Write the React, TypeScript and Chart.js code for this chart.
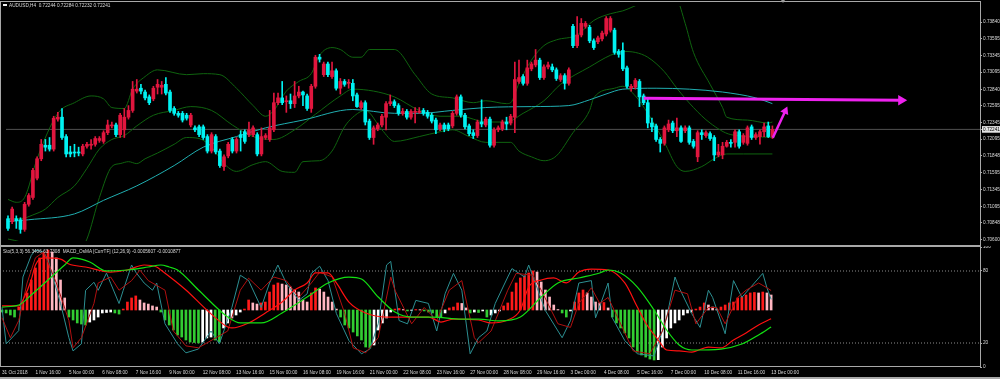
import React, { useEffect, useRef } from "react";
import { Chart, registerables } from "chart.js";

Chart.register(...registerables);

// ---------- texts ----------
const SYMBOL_TITLE = "AUDUSD,H4  0.72244 0.72284 0.72232 0.72241";
const INDICATOR_TITLE = "Sto(5,3,3) 56.3406 63.7308  MACD_OsMA [CurrTF] (12,26,9) -0.0005607 -0.0010877";

// ---------- time axis ----------
const TIME_LABELS = [
  "31 Oct 2018", "1 Nov 16:00", "5 Nov 00:00", "6 Nov 08:00", "7 Nov 16:00", "9 Nov 00:00",
  "12 Nov 08:00", "13 Nov 16:00", "15 Nov 00:00", "16 Nov 08:00", "19 Nov 16:00", "21 Nov 00:00",
  "22 Nov 08:00", "23 Nov 16:00", "27 Nov 00:00", "28 Nov 08:00", "29 Nov 16:00", "3 Dec 00:00",
  "4 Dec 08:00", "5 Dec 16:00", "7 Dec 00:00", "10 Dec 08:00", "11 Dec 16:00", "13 Dec 00:00",
];
const TIME_LABEL_BARS = [0, 8, 16, 24, 32, 40, 48, 56, 64, 72, 80, 88, 96, 104, 112, 120, 128, 136, 144, 152, 160, 168, 176, 184];

// ---------- candles (H4) ----------
const OPEN = [
  0.70909, 0.70866, 0.70909, 0.70894, 0.7075, 0.71125, 0.71226, 0.71514, 0.71803, 0.72005,
  0.72005, 0.71947, 0.72394, 0.72423, 0.72134, 0.71904, 0.71904, 0.71904, 0.71875, 0.7199,
  0.72005, 0.72019, 0.72077, 0.72062, 0.72192, 0.72293, 0.72307, 0.72163, 0.72235, 0.72423,
  0.72524, 0.72812, 0.72855, 0.72798, 0.72726, 0.72697, 0.7287, 0.7287, 0.72913, 0.72798,
  0.72553, 0.72481, 0.72481, 0.72452, 0.72307, 0.72264, 0.72279, 0.72279, 0.72134, 0.71918,
  0.72134, 0.71918, 0.71687, 0.71846, 0.72091, 0.71918, 0.72163, 0.72206, 0.72163, 0.72163,
  0.72163, 0.71875, 0.7212, 0.72091, 0.72235, 0.72639, 0.72711, 0.72654, 0.72668, 0.72625,
  0.7274, 0.72798, 0.7274, 0.72553, 0.72884, 0.73317, 0.73057, 0.73216, 0.73029, 0.73115,
  0.72855, 0.72956, 0.72928, 0.72928, 0.72755, 0.72567, 0.72639, 0.72365, 0.7212, 0.7225,
  0.72307, 0.72423, 0.72625, 0.72654, 0.72596, 0.72481, 0.72509, 0.72423, 0.72495, 0.72495,
  0.72524, 0.72495, 0.72452, 0.7238, 0.7225, 0.72307, 0.72307, 0.72293, 0.72481, 0.72726,
  0.72452, 0.72293, 0.72192, 0.72149, 0.72351, 0.72307, 0.72394, 0.72005, 0.72235, 0.7225,
  0.72351, 0.72336, 0.72423, 0.72956, 0.73029, 0.72928, 0.73144, 0.73202, 0.73274, 0.73014,
  0.73173, 0.73173, 0.73129, 0.72985, 0.73043, 0.72928, 0.73778, 0.7349, 0.73649, 0.73778,
  0.73764, 0.73562, 0.73548, 0.73591, 0.73663, 0.73721, 0.73721, 0.73403, 0.73418, 0.73158,
  0.72855, 0.7287, 0.72956, 0.7274, 0.72639, 0.72336, 0.72293, 0.72091, 0.72033, 0.72235,
  0.72336, 0.72221, 0.72264, 0.72221, 0.72264, 0.72062, 0.71832, 0.72192, 0.72149, 0.72178,
  0.7212, 0.7186, 0.7186, 0.7199, 0.72048, 0.72048, 0.72206, 0.72048, 0.72033, 0.72279,
  0.7212, 0.72134, 0.72206, 0.72293, 0.72134,
];
const HIGH = [
  0.70952, 0.71082, 0.70952, 0.70923, 0.71154, 0.71284, 0.71659, 0.71832, 0.72091, 0.72091,
  0.7212, 0.72437, 0.72495, 0.72553, 0.72163, 0.7199, 0.72019, 0.71976, 0.72019, 0.72048,
  0.72091, 0.72134, 0.72134, 0.72221, 0.7238, 0.72351, 0.72336, 0.72481, 0.72553, 0.72596,
  0.72956, 0.72985, 0.72913, 0.72827, 0.72755, 0.72884, 0.72985, 0.72956, 0.73014, 0.72827,
  0.72581, 0.72509, 0.72509, 0.72481, 0.72481, 0.72293, 0.72307, 0.72307, 0.72163, 0.72192,
  0.72163, 0.71947, 0.7186, 0.72048, 0.7212, 0.7212, 0.72221, 0.72235, 0.72351, 0.72293,
  0.72192, 0.72264, 0.72178, 0.72524, 0.72783, 0.72783, 0.72956, 0.7274, 0.72769, 0.72956,
  0.72884, 0.72812, 0.72769, 0.72913, 0.73346, 0.7336, 0.73245, 0.73245, 0.73245, 0.73144,
  0.73, 0.72985, 0.72985, 0.72985, 0.72783, 0.72668, 0.72668, 0.72394, 0.72293, 0.72336,
  0.72466, 0.72654, 0.72755, 0.72682, 0.72625, 0.72553, 0.72538, 0.72538, 0.72567, 0.72567,
  0.72553, 0.72524, 0.72481, 0.72408, 0.72336, 0.72336, 0.72336, 0.72509, 0.72755, 0.72755,
  0.72481, 0.72322, 0.72235, 0.7238, 0.72682, 0.72423, 0.72423, 0.72264, 0.72293, 0.7238,
  0.72423, 0.72466, 0.73245, 0.73274, 0.73057, 0.73274, 0.73245, 0.73432, 0.73303, 0.73202,
  0.73245, 0.73216, 0.73158, 0.73072, 0.73072, 0.73158, 0.73807, 0.73923, 0.73894, 0.7385,
  0.73793, 0.73591, 0.73634, 0.73706, 0.73923, 0.73923, 0.7375, 0.73432, 0.73533, 0.73187,
  0.72913, 0.73, 0.72985, 0.72769, 0.72711, 0.72408, 0.72322, 0.7212, 0.72293, 0.7238,
  0.72365, 0.72408, 0.72293, 0.72293, 0.72293, 0.72091, 0.72221, 0.72235, 0.72221, 0.72206,
  0.72149, 0.72019, 0.72048, 0.72077, 0.72091, 0.72235, 0.72235, 0.72178, 0.72293, 0.72307,
  0.72192, 0.72235, 0.72336, 0.72351, 0.72293,
];
const LOW = [
  0.70736, 0.70837, 0.70765, 0.70692, 0.70721, 0.71096, 0.71197, 0.71486, 0.71774, 0.71918,
  0.71918, 0.71918, 0.72365, 0.72091, 0.71832, 0.71832, 0.71832, 0.71846, 0.71846, 0.71961,
  0.71947, 0.7199, 0.72048, 0.72033, 0.72163, 0.72264, 0.72134, 0.7212, 0.7212, 0.72394,
  0.72495, 0.72783, 0.72769, 0.72682, 0.7261, 0.72668, 0.72769, 0.72769, 0.72755, 0.72495,
  0.72452, 0.72423, 0.72351, 0.7238, 0.72279, 0.72206, 0.72134, 0.72091, 0.71889, 0.71889,
  0.71875, 0.71673, 0.7163, 0.71817, 0.71889, 0.71889, 0.71918, 0.72033, 0.72134, 0.72134,
  0.71846, 0.71846, 0.72091, 0.72062, 0.72206, 0.7261, 0.7261, 0.72495, 0.72553, 0.72567,
  0.72711, 0.72596, 0.72524, 0.72495, 0.72855, 0.73245, 0.73029, 0.73029, 0.73, 0.72827,
  0.72769, 0.72884, 0.72855, 0.72668, 0.72567, 0.72538, 0.72307, 0.72091, 0.72019, 0.72221,
  0.72279, 0.72235, 0.72596, 0.72567, 0.72452, 0.72452, 0.72394, 0.72394, 0.72336, 0.72481,
  0.72452, 0.72408, 0.72336, 0.72178, 0.72221, 0.72206, 0.72221, 0.72264, 0.72452, 0.72423,
  0.7225, 0.72149, 0.72105, 0.7212, 0.72279, 0.72279, 0.71976, 0.71976, 0.72206, 0.72221,
  0.72235, 0.72307, 0.72192, 0.72928, 0.72899, 0.72899, 0.73115, 0.73173, 0.72985, 0.72985,
  0.73144, 0.73101, 0.72971, 0.72956, 0.72841, 0.72899, 0.73461, 0.73461, 0.7362, 0.7375,
  0.73533, 0.73432, 0.73519, 0.73562, 0.73634, 0.73692, 0.7336, 0.73317, 0.73115, 0.72855,
  0.72812, 0.72841, 0.72581, 0.7261, 0.72264, 0.72206, 0.72062, 0.71904, 0.72005, 0.72206,
  0.72192, 0.72134, 0.72048, 0.72192, 0.72019, 0.71961, 0.7176, 0.72091, 0.7212, 0.72077,
  0.71774, 0.71832, 0.71803, 0.71976, 0.71976, 0.71976, 0.71961, 0.72019, 0.72005, 0.72091,
  0.72091, 0.72019, 0.72134, 0.7212, 0.72105,
];
const CLOSE = [
  0.70765, 0.71053, 0.7088, 0.7075, 0.71125, 0.71255, 0.7163, 0.71803, 0.72019, 0.71976,
  0.71947, 0.72408, 0.72423, 0.7212, 0.71875, 0.71875, 0.71889, 0.71889, 0.7199, 0.72019,
  0.72019, 0.72105, 0.72105, 0.72192, 0.72307, 0.72307, 0.72163, 0.72452, 0.72423, 0.72524,
  0.72841, 0.72841, 0.72812, 0.72711, 0.72639, 0.72855, 0.72913, 0.72899, 0.72783, 0.72524,
  0.72481, 0.72452, 0.7238, 0.72408, 0.72452, 0.72235, 0.72163, 0.7212, 0.71918, 0.72163,
  0.71904, 0.71702, 0.71832, 0.72019, 0.71918, 0.72091, 0.7212, 0.72062, 0.72235, 0.72264,
  0.71875, 0.72134, 0.72149, 0.72264, 0.72639, 0.72711, 0.72639, 0.72668, 0.72625, 0.7274,
  0.72798, 0.72755, 0.72553, 0.72884, 0.73317, 0.73288, 0.73216, 0.73057, 0.73115, 0.72855,
  0.72956, 0.72913, 0.72942, 0.7274, 0.72581, 0.72639, 0.72351, 0.7212, 0.72264, 0.72307,
  0.72437, 0.72625, 0.72654, 0.72596, 0.72481, 0.72509, 0.72423, 0.72509, 0.72509, 0.72509,
  0.72481, 0.72437, 0.72365, 0.72235, 0.72307, 0.7225, 0.7225, 0.72481, 0.72726, 0.72452,
  0.72279, 0.72178, 0.72149, 0.72351, 0.72322, 0.72394, 0.72005, 0.72235, 0.72264, 0.72351,
  0.72322, 0.72437, 0.72985, 0.73014, 0.72928, 0.73158, 0.73216, 0.73274, 0.73014, 0.73173,
  0.73202, 0.73129, 0.73, 0.73043, 0.72928, 0.73129, 0.7349, 0.73649, 0.73822, 0.73822,
  0.73562, 0.73461, 0.73605, 0.73677, 0.73894, 0.73894, 0.73389, 0.7336, 0.73144, 0.72884,
  0.72884, 0.72971, 0.72726, 0.72639, 0.72336, 0.72279, 0.72091, 0.72033, 0.72264, 0.72322,
  0.72221, 0.72264, 0.72062, 0.72264, 0.72048, 0.7199, 0.72192, 0.72163, 0.72192, 0.72105,
  0.7186, 0.71904, 0.7199, 0.72048, 0.72033, 0.72206, 0.7199, 0.72149, 0.72264, 0.7212,
  0.72163, 0.72206, 0.72279, 0.72134, 0.72241,
];

// ---------- price axis ----------
const LAST_PRICE = 0.72241;
const PRICE_TICKS = [
  0.7384, 0.73595, 0.73345, 0.73095, 0.7284, 0.72595, 0.72345, 0.72095, 0.71848, 0.71595, 0.71345,
  0.71095, 0.70848, 0.706,
];

// ---------- overlays on price: [bar, price] ----------
const BB_UPPER = [
  [0, 0.71197], [2, 0.71154], [4, 0.71226], [7, 0.71803], [12, 0.72481], [16, 0.72639], [20, 0.7274],
  [23, 0.72697], [25, 0.72567], [28, 0.72553], [30, 0.72841], [33, 0.73029], [36, 0.73129], [43, 0.73057],
  [47, 0.73072], [51, 0.73057], [55, 0.72855], [59, 0.72596], [62, 0.72437], [64, 0.72524], [67, 0.72812],
  [70, 0.72956], [73, 0.73072], [75, 0.73346], [78, 0.73461], [80, 0.73432], [83, 0.73317], [85, 0.73317],
  [87, 0.73432], [93, 0.73432], [98, 0.73057], [102, 0.72769], [107, 0.72711], [112, 0.72639], [115, 0.72668],
  [120, 0.72625], [121, 0.72639], [123, 0.72928], [126, 0.73274], [129, 0.7349], [132, 0.73576], [137, 0.73649],
  [141, 0.73865], [145, 0.73966], [148, 0.74009], [153, 0.74139], [158, 0.74254], [161, 0.74182], [163, 0.73822],
  [165, 0.73389], [169, 0.72913], [172, 0.72567], [173, 0.72423], [178, 0.7238], [183, 0.72336], [184, 0.72351],
];
const BB_MIDDLE = [
  [0, 0.70909], [3, 0.70909], [6, 0.70966], [9, 0.71053], [12, 0.71226], [16, 0.71399], [19, 0.71659],
  [22, 0.71947], [25, 0.72091], [28, 0.72149], [31, 0.72293], [35, 0.72452], [40, 0.72524], [44, 0.72581],
  [49, 0.72524], [54, 0.72307], [59, 0.72134], [64, 0.72091], [69, 0.72235], [74, 0.72466], [80, 0.7274],
  [83, 0.72841], [88, 0.72812], [93, 0.72726], [99, 0.72524], [104, 0.72437], [109, 0.72437], [115, 0.72351],
  [120, 0.72351], [124, 0.72481], [129, 0.72668], [133, 0.72913], [140, 0.73173], [145, 0.73346], [148, 0.73403],
  [151, 0.73389], [154, 0.73317], [158, 0.73101], [161, 0.72855], [165, 0.72567], [169, 0.72336], [174, 0.72163],
  [180, 0.72134], [184, 0.7212],
];
const BB_LOWER = [
  [0, 0.70606], [3, 0.70563], [6, 0.70476], [12, 0.70332], [17, 0.70418], [19, 0.70606], [22, 0.71226],
  [25, 0.71687], [27, 0.71731], [29, 0.7176], [31, 0.71731], [33, 0.71803], [36, 0.71889], [40, 0.72019],
  [43, 0.7212], [46, 0.72105], [49, 0.71976], [52, 0.71731], [55, 0.71615], [59, 0.71716], [62, 0.7176],
  [66, 0.71615], [69, 0.71601], [71, 0.7176], [75, 0.71774], [78, 0.71918], [81, 0.72279], [83, 0.72423],
  [86, 0.72524], [90, 0.72235], [93, 0.72062], [99, 0.72134], [104, 0.72206], [107, 0.72235], [111, 0.72134],
  [115, 0.72048], [121, 0.72048], [123, 0.71918], [126, 0.71832], [129, 0.71774], [132, 0.71846], [136, 0.72192],
  [140, 0.72524], [141, 0.72711], [146, 0.72855], [148, 0.72884], [151, 0.7274], [154, 0.72481], [158, 0.72048],
  [161, 0.71687], [163, 0.71615], [167, 0.71687], [170, 0.71803], [173, 0.71875], [177, 0.71875], [184, 0.71875],
];
const MA_LINE = [
  [0, 0.70866], [5, 0.70894], [16, 0.70981], [23, 0.71183], [31, 0.71399], [40, 0.71702], [47, 0.71976],
  [55, 0.72134], [62, 0.72264], [71, 0.7238], [83, 0.72538], [93, 0.72481], [99, 0.72481], [107, 0.72524],
  [115, 0.72567], [126, 0.72581], [135, 0.72596], [140, 0.72682], [146, 0.72812], [148, 0.72841], [156, 0.72855],
  [164, 0.72841], [172, 0.72798], [180, 0.72711], [184, 0.72625],
];
const TARGET_ARROW = [[153, 0.72707], [215, 0.72675]];
const UP_ARROW = [[184.1, 0.72116], [187.1, 0.72515]];

// ---------- lower panel ----------
const STOCH_TICKS = [0, 20, 80, 100];
const STOCH_LEVELS = [20, 80];
const STOCH_MAIN = [
  [0, 49.6], [1, 19.3], [4, 30.3], [5, 75], [7, 93], [8, 97.5], [10, 95.8], [11, 89], [14, 53], [16, 24.4],
  [17, 13.4], [19, 19.3], [20, 63.9], [22, 70.6], [23, 63.9], [25, 78.2], [26, 69.7], [28, 52.9], [29, 63.9],
  [31, 85], [32, 79], [34, 70], [36, 64], [37, 70], [39, 36], [42, 19.3], [44, 11.8], [47, 15], [50, 30],
  [52, 19.3], [55, 49.6], [57, 76.5], [59, 72], [62, 49.6], [64, 70], [66, 85], [68, 70], [71, 55.5], [73, 61],
  [74, 78], [76, 84], [78, 72], [80, 44.5], [83, 22], [86, 11], [88, 15], [90, 36], [92, 85], [93, 88],
  [95, 38.7], [97, 36], [99, 55.5], [102, 53], [104, 30], [106, 61], [108, 78], [110, 64], [112, 11], [114, 24.4],
  [116, 30], [118, 53], [121, 75], [122, 82], [125, 75], [126, 85], [130, 47], [134, 24.4], [136, 38.7], [138, 70],
  [141, 72], [142, 41], [145, 70], [146, 41], [149, 22], [152, 11], [156, 9.2], [159, 41], [161, 75], [162, 66],
  [165, 44.5], [167, 33], [169, 64], [170, 58], [173, 27.7], [175, 72], [177, 58], [180, 70], [182, 78], [183, 66],
  [184, 56.34],
];
const STOCH_SIGNAL = [
  [0, 41], [2, 24.4], [4, 38.7], [6, 70], [8, 91], [10, 95.8], [13, 70], [16, 38.7], [17, 16], [19, 24.4],
  [22, 53], [23, 70], [26, 75], [28, 64], [31, 72], [33, 80.7], [35, 72], [39, 64], [41, 30], [44, 17.6],
  [47, 16], [50, 22], [54, 30], [57, 64], [59, 74], [62, 64], [65, 75], [68, 72], [71, 58], [74, 70], [76, 79],
  [79, 75], [82, 44.5], [84, 16], [87, 11.8], [90, 24.4], [93, 75], [94, 64], [98, 36], [101, 49.6], [104, 38.7],
  [107, 64], [110, 72], [113, 24.4], [114, 20.2], [117, 30], [121, 64], [123, 78], [127, 76.5], [129, 64],
  [133, 36], [136, 33], [138, 53], [141, 66], [143, 53], [145, 58], [148, 36], [151, 13.4], [155, 11], [158, 30],
  [161, 64], [164, 61], [166, 36], [169, 49.6], [171, 49.6], [173, 36], [176, 58], [178, 64], [181, 70], [183, 66],
  [184, 63.73],
];
const OSMA = [
  -0.00013, -0.00019, -0.00032, -0.00045, 0.00019, 0.00051, 0.00109, 0.00192, 0.00269, 0.00333,
  0.00371, 0.00384, 0.00371, 0.00333, 0.00192, 0.00077, -0.00045, -0.00064, -0.00083, -0.0009,
  -0.00096, -0.00077, -0.00064, -0.00045, -0.00019, -0.00016, -0.00013, -0.00019, -0.00026, 0.00006,
  0.00051, 0.00077, 0.0009, 0.00064, 0.00045, 0.00038, 0.00026, 0.00019, -0.00013, -0.00064,
  -0.00096, -0.00128, -0.0016, -0.00173, -0.00192, -0.00205, -0.00208, -0.00211, -0.00205, -0.00179,
  -0.00173, -0.00192, -0.00205, -0.00115, -0.00083, -0.00051, -0.00032, -0.00013, 0.00006, 0.00064,
  0.00045, 0.00038, 0.00045, 0.00051, 0.00115, 0.0016, 0.00173, 0.00166, 0.0016, 0.00147,
  0.00128, 0.00115, 0.00064, 0.00051, 0.00109, 0.00141, 0.00134, 0.00115, 0.00083, 0.00051,
  0.00006, -0.00045, -0.00096, -0.00115, -0.00141, -0.00166, -0.00192, -0.00237, -0.00243, -0.00224,
  -0.00128, -0.00083, -0.00051, -0.00013, 0.00006, 0.0001, 0.00003, -0.00006, -0.00003, 0.00003,
  0.00002, -0.00006, -0.00013, -0.00019, -0.00045, -0.00048, -0.00019, 0.00013, 0.00019, 0.00045,
  0.00042, 0.00013, -0.00019, -0.00013, -0.00016, -0.00006, -0.00045, -0.00032, -0.00019, -0.00006,
  0.00026, 0.00045, 0.00115, 0.00173, 0.00205, 0.00218, 0.00237, 0.0025, 0.00243, 0.00179,
  0.00128, 0.00083, 0.00032, 0.00003, -0.00019, -0.00045, -0.00006, 0.00051, 0.00109, 0.00128,
  0.00109, 0.00083, 0.00051, 0.00045, 0.00048, 0.00013, -0.00045, -0.00083, -0.00115, -0.00147,
  -0.00179, -0.00237, -0.00269, -0.00288, -0.00301, -0.00314, -0.0032, -0.00318, -0.00237, -0.00179,
  -0.00115, -0.00083, -0.00064, -0.00032, -0.00019, -0.00013, 0.00006, 0.00019, 0.00045, 0.00032,
  0.00019, 0.00006, 0.00019, 0.00032, 0.00045, 0.00051, 0.00077, 0.00083, 0.00096, 0.00109,
  0.00112, 0.00109, 0.00115, 0.00109, 0.00096,
];
const MACD_MAIN = [
  [0, 0.00026], [4, 0.00026], [5, 0.00064], [7, 0.00192], [8, 0.00288], [10, 0.00333], [14, 0.00326],
  [16, 0.00294], [20, 0.00275], [26, 0.00243], [30, 0.00256], [34, 0.00288], [37, 0.00275], [38, 0.00256],
  [44, 0.00128], [49, 0], [54, -0.00109], [55, -0.00115], [59, -0.00083], [63, -0.00019], [67, 0.00051],
  [70, 0.00128], [73, 0.00173], [75, 0.00237], [78, 0.00237], [80, 0.00173], [83, 0.00051], [87, -0.00019],
  [92, -0.00045], [102, -0.00045], [105, -0.00077], [108, -0.00058], [114, -0.00064], [117, -0.00083],
  [121, -0.00064], [124, 0], [126, 0.00147], [129, 0.00192], [132, 0.00205], [135, 0.00173], [138, 0.00243],
  [141, 0.00262], [145, 0.00256], [149, 0.00173], [152, 0.00019], [154, -0.00083], [157, -0.00192],
  [159, -0.00256], [162, -0.00262], [165, -0.00269], [169, -0.00237], [172, -0.00243], [175, -0.00192],
  [178, -0.00147], [181, -0.00096], [184, -0.00056],
];
const MACD_SIGNAL = [
  [0, 0.00019], [4, 0.00032], [7, 0.00096], [11, 0.00192], [15, 0.00288], [17, 0.00333], [21, 0.00307],
  [25, 0.0025], [30, 0.00256], [35, 0.00275], [38, 0.00288], [40, 0.00275], [42, 0.00256], [47, 0.00128],
  [54, -0.00045], [57, -0.00083], [62, -0.00083], [67, -0.00019], [73, 0.00083], [78, 0.00173], [83, 0.00211],
  [86, 0.00198], [90, 0.00083], [94, -0.00013], [98, -0.00045], [103, -0.00045], [110, -0.00058],
  [114, -0.00058], [119, -0.0007], [124, -0.00045], [129, 0.00083], [133, 0.00173], [138, 0.00205],
  [143, 0.00237], [145, 0.00256], [148, 0.00237], [152, 0.00147], [156, 0], [159, -0.00128], [162, -0.00224],
  [165, -0.00256], [172, -0.0025], [177, -0.00218], [181, -0.0016], [184, -0.00109],
];

// ---------- axis windows ----------
const X_MIN = -0.48;
const X_MAX = 233.97;
const PRICE_MIN = 0.70577;
const PRICE_MAX = 0.74081;
const MACD_MIN = -0.003648;
const MACD_MAX = 0.004032;

// ---------- styles ----------
const BULL = "#e0163e";
const BEAR = "#00f2f2";
const BAND = "#0f640f";
const MA_COLOR = "#20aeb0";
const MAGENTA = "#ee22ee";
const TEXT = "#dadada";
const FRAME = "#a8a8a8";
const FONT_FAMILY = '"Liberation Sans", Arial, sans-serif';
const FONT = { family: FONT_FAMILY, size: 4.7 };

const xy = (list: number[][]) => list.map(([x, y]) => ({ x, y }));

function osmaColor(i: number) {
  const v = OSMA[i];
  const p = i > 0 ? OSMA[i - 1] : v;
  if (v >= 0) return v >= p ? "#ff1a1a" : "#ffb6c1";
  return v <= p ? "#32cd32" : "#ffffff";
}

export default function App() {
  const topRef = useRef<HTMLCanvasElement | null>(null);
  const botRef = useRef<HTMLCanvasElement | null>(null);

  useEffect(() => {
    const candleColors = OPEN.map((o, i) => (CLOSE[i] >= o ? BULL : BEAR));
    const lineBase = { pointRadius: 0, borderWidth: 1, fill: false, yAxisID: "y" };

    const top = new Chart(topRef.current as HTMLCanvasElement, {
      type: "bar",
      data: {
        datasets: [
          {
            type: "line", label: "last", data: xy([[X_MIN, LAST_PRICE], [X_MAX, LAST_PRICE]]),
            borderColor: "#505050", ...lineBase, order: 20,
          } as any,
          { type: "line", label: "bbU", data: xy(BB_UPPER), borderColor: BAND, cubicInterpolationMode: "monotone", ...lineBase, order: 15 } as any,
          { type: "line", label: "bbM", data: xy(BB_MIDDLE), borderColor: BAND, cubicInterpolationMode: "monotone", ...lineBase, order: 15 } as any,
          { type: "line", label: "bbL", data: xy(BB_LOWER), borderColor: BAND, cubicInterpolationMode: "monotone", ...lineBase, order: 15 } as any,
          { type: "line", label: "ma", data: xy(MA_LINE), borderColor: MA_COLOR, cubicInterpolationMode: "monotone", ...lineBase, order: 14 } as any,
          {
            type: "bar", label: "wick",
            data: OPEN.map((_, i) => ({ x: i, y: [LOW[i], HIGH[i]] })),
            backgroundColor: candleColors, barThickness: 1, grouped: false, order: 10, yAxisID: "y",
          } as any,
          {
            type: "bar", label: "body",
            data: OPEN.map((o, i) => ({ x: i, y: [o, CLOSE[i]] })),
            backgroundColor: candleColors, barThickness: 3, grouped: false, minBarLength: 1, order: 9, yAxisID: "y",
          } as any,
          {
            type: "line", label: "target", data: xy(TARGET_ARROW), borderColor: MAGENTA, borderWidth: 3,
            pointStyle: "triangle", pointRotation: 90, pointBackgroundColor: MAGENTA, pointBorderWidth: 0,
            pointRadius: (c: any) => (c.dataIndex === 1 ? 6 : 0), yAxisID: "y", order: 1,
          } as any,
          {
            type: "line", label: "up", data: xy(UP_ARROW), borderColor: MAGENTA, borderWidth: 2.5,
            pointStyle: "triangle", pointRotation: 24, pointBackgroundColor: MAGENTA, pointBorderWidth: 0,
            pointRadius: (c: any) => (c.dataIndex === 1 ? 5 : 0), yAxisID: "y", order: 1,
          } as any,
        ],
      },
      options: {
        responsive: false,
        animation: false,
        events: [],
        layout: { padding: { top: 2, bottom: 2, left: 0, right: 0 } },
        plugins: { legend: { display: false }, tooltip: { enabled: false } },
        scales: {
          x: { type: "linear", min: X_MIN, max: X_MAX, display: false, offset: false, grid: { offset: false } },
          y: {
            type: "linear", position: "right", min: PRICE_MIN, max: PRICE_MAX,
            afterBuildTicks: (axis: any) => {
              axis.ticks = [...PRICE_TICKS, LAST_PRICE].map((v) => ({ value: v }));
            },
            afterFit: (axis: any) => { axis.width = 20; axis.paddingTop = 0; axis.paddingBottom = 0; },
            ticks: {
              autoSkip: false, padding: 1, font: FONT,
              callback: (v: any) => Number(v).toFixed(5),
              color: (c: any) => (c.tick && c.tick.value === LAST_PRICE ? "#000000" : TEXT),
              showLabelBackdrop: (c: any) => !!c.tick && c.tick.value === LAST_PRICE,
              backdropColor: "#e4e4e4",
              backdropPadding: { top: 0.5, bottom: 0.5, left: 1, right: 3 },
            },
            grid: { drawOnChartArea: false, drawTicks: true, tickLength: 2, color: FRAME, tickColor: FRAME },
            border: { display: false },
          },
        },
      } as any,
    });

    const sLine = { pointRadius: 0, borderWidth: 1, fill: false, yAxisID: "yS", tension: 0 };
    const bot = new Chart(botRef.current as HTMLCanvasElement, {
      type: "bar",
      data: {
        datasets: [
          ...STOCH_LEVELS.map((lv) => ({
            type: "line", label: "lvl" + lv, data: xy([[X_MIN, lv], [X_MAX, lv]]),
            borderColor: "#8c8c8c", borderDash: [1, 2], ...sLine, order: 20,
          } as any)),
          {
            type: "bar", label: "osma", data: OSMA.map((v, i) => ({ x: i, y: v })),
            backgroundColor: (c: any) => osmaColor(c.dataIndex), barThickness: 2, grouped: false,
            yAxisID: "yM", order: 12,
          } as any,
          { type: "line", label: "stoMain", data: xy(STOCH_MAIN), borderColor: "#2c8f92", ...sLine, order: 8 } as any,
          { type: "line", label: "stoSig", data: xy(STOCH_SIGNAL), borderColor: "#b01010", ...sLine, order: 7 } as any,
          {
            type: "line", label: "macd", data: xy(MACD_MAIN), borderColor: "#ff1010", pointRadius: 0,
            borderWidth: 1.2, cubicInterpolationMode: "monotone", yAxisID: "yM", order: 4,
          } as any,
          {
            type: "line", label: "signal", data: xy(MACD_SIGNAL), borderColor: "#12e012", pointRadius: 0,
            borderWidth: 1.2, cubicInterpolationMode: "monotone", yAxisID: "yM", order: 3,
          } as any,
        ],
      },
      options: {
        responsive: false,
        animation: false,
        events: [],
        layout: { padding: { top: 1, bottom: 0, left: 0, right: 0 } },
        plugins: { legend: { display: false }, tooltip: { enabled: false } },
        scales: {
          x: {
            type: "linear", position: "bottom", min: X_MIN, max: X_MAX, offset: false,
            afterBuildTicks: (axis: any) => { axis.ticks = TIME_LABEL_BARS.map((v) => ({ value: v })); },
            afterFit: (axis: any) => { axis.height = 12; axis.paddingLeft = 0; axis.paddingRight = 0; },
            ticks: {
              autoSkip: false, maxRotation: 0, minRotation: 0, align: "start", padding: 3, font: FONT, color: TEXT,
              callback: (v: any) => {
                const k = TIME_LABEL_BARS.indexOf(Number(v));
                return k >= 0 ? TIME_LABELS[k] : "";
              },
            },
            grid: { display: false, drawTicks: false, offset: false },
            border: { display: false },
          },
          yS: {
            type: "linear", position: "right", min: 0, max: 100,
            afterBuildTicks: (axis: any) => { axis.ticks = STOCH_TICKS.map((v) => ({ value: v })); },
            afterFit: (axis: any) => { axis.width = 20; axis.paddingTop = 0; axis.paddingBottom = 0; },
            ticks: { autoSkip: false, padding: 1, font: FONT, color: TEXT, callback: (v: any) => String(v) },
            grid: { drawOnChartArea: false, drawTicks: true, tickLength: 2, color: FRAME, tickColor: FRAME },
            border: { display: false },
          },
          yM: { type: "linear", display: false, min: MACD_MIN, max: MACD_MAX },
        },
      } as any,
    });

    return () => {
      top.destroy();
      bot.destroy();
    };
  }, []);

  const line = (l: number, t: number, w: number, h: number, c = FRAME) => (
    <div style={{ position: "absolute", left: l, top: t, width: w, height: h, background: c }} />
  );
  const textStyle: React.CSSProperties = {
    position: "absolute", fontFamily: FONT_FAMILY, fontSize: "4.7px", lineHeight: "5px",
    color: TEXT, whiteSpace: "pre",
  };

  return (
    <div style={{ position: "fixed", left: 0, top: 0, width: 1000, height: 379, background: "#000", overflow: "hidden" }}>
      <canvas ref={topRef} width={1000} height={247} style={{ position: "absolute", left: 0, top: 0 }} />
      <canvas ref={botRef} width={1000} height={133} style={{ position: "absolute", left: 0, top: 246 }} />
      {line(0, 1, 981, 1)}
      {line(0, 1, 1, 366)}
      {line(980, 1, 1, 366)}
      {line(0, 245, 981, 2)}
      {line(0, 366, 981, 1)}
      {line(0, 377, 1000, 2)}
      <div style={{ position: "absolute", left: 3, top: 4, width: 4, height: 2, background: "#f0f0f0" }} />
      <div style={{ ...textStyle, left: 9, top: 3 }}>{SYMBOL_TITLE}</div>
      <div style={{ ...textStyle, left: 3, top: 249 }}>{INDICATOR_TITLE}</div>
      <div
        style={{
          position: "absolute", left: 781, top: 0, width: 0, height: 0,
          borderLeft: "2px solid transparent", borderRight: "2px solid transparent", borderTop: "3px solid #9a9a9a",
        }}
      />
    </div>
  );
}
